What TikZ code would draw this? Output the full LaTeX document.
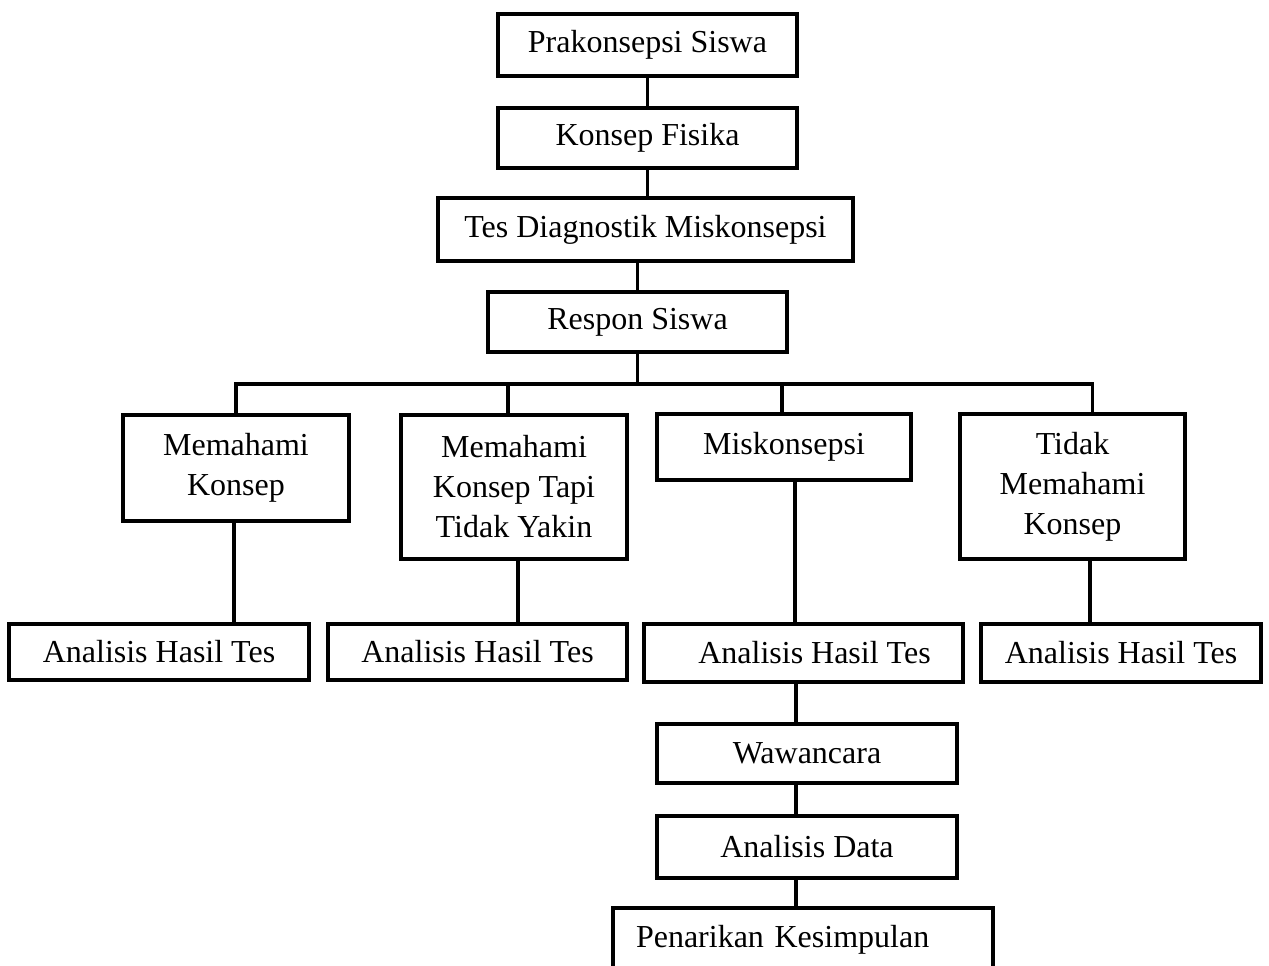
\documentclass[tikz,border=0pt]{standalone}
\usepackage{fontspec}
\setmainfont{Liberation Serif}
\usepackage{tikz}
\usetikzlibrary{positioning}
\tikzset{
  kotak/.style={draw,line width=1.6pt,align=center,inner sep=3pt,font=\fontsize{16}{20}\selectfont},
  garis/.style={line width=1.6pt}
}

\begin{document}
\begin{tikzpicture}[x=.5pt,y=-.5pt]
\useasboundingbox (0,0) rectangle (1269,965);
% alur atas
\node[kotak,minimum width=149.5pt,minimum height=31pt] (prakonsepsi) at (647.5,45) {Prakonsepsi Siswa};
\node[kotak,minimum width=149.5pt,minimum height=30pt] (fisika) at (647.5,138) {Konsep Fisika};
\node[kotak,minimum width=207.5pt,minimum height=31.5pt] (tes) at (645.5,229.5) {Tes Diagnostik Miskonsepsi};
\node[kotak,minimum width=149.5pt,minimum height=30pt] (respon) at (637.5,322) {Respon Siswa};
\coordinate (cabang) at (640,384);
% kategori respon
\node[kotak,minimum width=113pt,minimum height=53pt] (paham) at (236,468) {Memahami\\Konsep};
\node[kotak,minimum width=113pt,minimum height=72pt] (ragu) at (514,487) {Memahami\\Konsep Tapi\\Tidak Yakin};
\node[kotak,minimum width=127pt,minimum height=33pt] (miskonsepsi) at (784,447) {Miskonsepsi};
\node[kotak,minimum width=112.5pt,minimum height=72.5pt] (tidak) at (1072.5,486.5) {Tidak\\Memahami\\Konsep};
% analisis
\node[kotak,minimum width=150pt,minimum height=28pt] (hasil1) at (159,652) {Analisis Hasil Tes};
\node[kotak,minimum width=149.5pt,minimum height=28pt] (hasil2) at (477.5,652) {Analisis Hasil Tes};
\node[kotak,minimum width=159.5pt,minimum height=29pt] (hasil3) at (803.5,653) {\hspace{11pt}Analisis Hasil Tes};
\node[kotak,minimum width=140pt,minimum height=29pt] (hasil4) at (1121,653) {Analisis Hasil Tes};
\node[kotak,minimum width=150pt,minimum height=29.5pt] (wawancara) at (807,753.5) {Wawancara};
\node[kotak,minimum width=150pt,minimum height=31pt] (data) at (807,847) {Analisis Data};
\node[kotak,minimum width=190pt,minimum height=32pt,inner xsep=11.5pt,text width=167pt,align=left] (kesimpulan) at (803,940) {Penarikan Kesimpulan};

\draw[garis] (prakonsepsi) -- (fisika);
\draw[garis] (fisika.south) -- (fisika.south |- tes.north);
\draw[garis] (respon.north) -- (respon.north |- tes.south);
\draw[garis] (respon.south) -- (respon.south |- cabang);
\draw[garis] (paham.north) |- (cabang) -| ([xshift=10pt]tidak.north);
\draw[garis] ([xshift=-3pt]ragu.north) -- ([xshift=-3pt]ragu.north |- cabang);
\draw[garis] ([xshift=-1pt]miskonsepsi.north) -- ([xshift=-1pt]miskonsepsi.north |- cabang);

\draw[garis] ([xshift=-1pt]paham.south) -- ([xshift=-1pt]paham.south |- hasil1.north);
\draw[garis] ([xshift=2pt]ragu.south) -- ([xshift=2pt]ragu.south |- hasil2.north);
\draw[garis] ([xshift=5.5pt]miskonsepsi.south) -- ([xshift=5.5pt]miskonsepsi.south |- hasil3.north);
\draw[garis] ([xshift=8.75pt]tidak.south) -- ([xshift=8.75pt]tidak.south |- hasil4.north);

\draw[garis] ([xshift=-5.5pt]wawancara.north) -- ([xshift=-5.5pt]wawancara.north |- hasil3.south);
\draw[garis] ([xshift=-5.5pt]wawancara.south) -- ([xshift=-5.5pt]data.north);
\draw[garis] ([xshift=-5.5pt]data.south) -- ([xshift=-5.5pt]data.south |- kesimpulan.north);
\end{tikzpicture}
\end{document}
